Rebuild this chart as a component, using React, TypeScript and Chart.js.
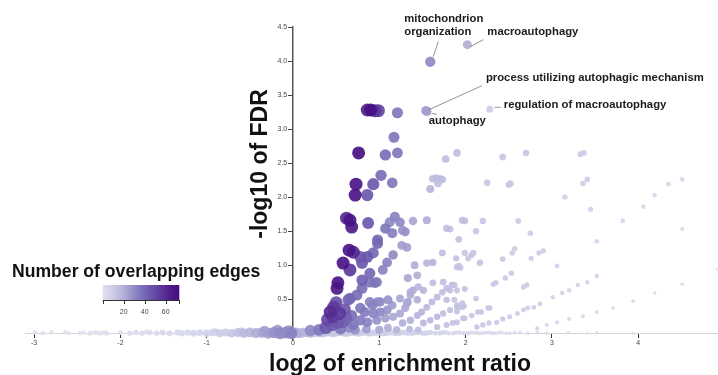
import React, { useEffect, useRef } from "react";
import { Chart, registerables } from "chart.js";

Chart.register(...registerables);

// ---------- data ----------
const X_TICKS = [-3, -2, -1, 0, 1, 2, 3, 4];
const Y_TICKS = [0.5, 1, 1.5, 2, 2.5, 3, 3.5, 4, 4.5];
const X_MIN = -3.1;
const X_MAX = 4.92;
const Y_MIN = -0.1;
const Y_MAX = 4.5;
const EDGE_MIN = 0;
const EDGE_MAX = 73;
const LEGEND_TICKS = [20, 40, 60];

const X_TITLE = "log2 of enrichment ratio";
const Y_TITLE = "-log10 of FDR";
const LEGEND_TITLE = "Number of overlapping edges";

// labelled terms
const TERM_NAMES = [
  "mitochondrion organization",
  "macroautophagy",
  "process utilizing autophagic mechanism",
  "autophagy",
  "regulation of macroautophagy",
];
const TERM_RATIO = [1.59, 2.02, 1.54, 1.55, 2.28];
const TERM_FDR = [3.99, 4.24, 3.27, 3.26, 3.29];
const TERM_EDGES = [30, 20, 24, 24, 10];

// [log2 enrichment ratio, -log10 FDR, overlapping edges]
const TOP_TERMS = [
  [0.86, 3.28, 62], [0.9, 3.28, 70], [0.95, 3.27, 55], [0.99, 3.27, 50],
  [1.21, 3.24, 35], [1.17, 2.88, 35],
  [0.76, 2.65, 70], [1.07, 2.62, 38], [1.21, 2.65, 35],
  [1.77, 2.56, 15], [1.9, 2.65, 15],
  [1.02, 2.32, 38], [0.93, 2.19, 45], [1.15, 2.21, 35], [0.73, 2.19, 68], [0.72, 2.03, 68], [0.86, 2.03, 45],
  [1.62, 2.27, 15], [1.66, 2.28, 15], [1.7, 2.27, 15], [1.73, 2.26, 15], [1.68, 2.2, 15], [1.59, 2.12, 18],
  [2.25, 2.21, 12], [2.43, 2.59, 12], [2.7, 2.65, 12], [3.33, 2.63, 10], [3.37, 2.65, 10],
  [2.5, 2.18, 12], [2.52, 2.2, 12], [3.36, 2.2, 10], [3.41, 2.26, 10], [3.15, 2.0, 8], [3.45, 1.82, 8],
  [4.51, 2.26, 5], [4.35, 2.19, 5], [4.19, 2.03, 5], [4.06, 1.86, 5], [3.82, 1.65, 6], [4.51, 1.53, 4], [3.52, 1.35, 6],
  [0.66, 1.66, 68], [0.68, 1.56, 66], [0.62, 1.69, 60], [0.87, 1.62, 45],
  [1.18, 1.71, 32], [1.12, 1.63, 30], [1.24, 1.63, 30], [1.27, 1.51, 28], [1.39, 1.65, 22], [1.55, 1.66, 20],
  [1.78, 1.54, 15], [1.96, 1.66, 15], [1.99, 1.65, 15], [2.2, 1.65, 12], [2.61, 1.65, 10],
  [1.07, 1.54, 35], [1.15, 1.47, 33], [0.98, 1.37, 40], [2.12, 1.5, 12], [2.75, 1.47, 10], [1.92, 1.38, 14],
  [1.82, 1.53, 14], [1.3, 1.49, 28],
];

const MID_TERMS = [
  [0.65, 1.22, 68], [0.7, 1.19, 60], [0.58, 1.03, 68], [0.66, 0.93, 55], [0.52, 0.74, 68], [0.51, 0.66, 65],
  [0.78, 1.12, 45], [0.86, 1.12, 45], [0.93, 1.18, 40], [0.98, 1.32, 40], [0.8, 1.03, 45], [0.89, 0.88, 40],
  [0.8, 0.78, 42], [0.97, 0.75, 35], [1.09, 1.04, 32], [1.04, 0.93, 32], [1.16, 1.15, 30],
  [1.26, 1.29, 25], [1.32, 1.26, 25],
  [0.64, 0.49, 40], [0.74, 0.56, 38], [0.8, 0.66, 38], [0.89, 0.75, 36], [0.95, 0.74, 35],
  [0.98, 0.46, 30], [1.1, 0.49, 28], [0.89, 0.46, 32], [0.78, 0.37, 35], [0.66, 0.51, 40],
  [1.41, 1.0, 20], [1.55, 1.03, 18], [1.62, 1.04, 18], [1.44, 0.85, 20], [1.33, 0.81, 22], [1.73, 1.18, 15],
  [1.62, 0.74, 15], [1.51, 0.63, 18], [1.74, 0.75, 15], [1.82, 0.63, 14], [1.36, 0.6, 20], [1.24, 0.51, 22],
  [1.32, 0.44, 22], [1.44, 0.49, 20], [1.78, 0.49, 15], [1.9, 0.41, 14],
  [1.33, 0.46, 22], [1.36, 0.56, 20], [1.39, 0.63, 20], [1.45, 0.68, 18],
  [1.61, 0.46, 16], [1.67, 0.53, 16], [1.73, 0.6, 15], [1.78, 0.66, 15], [1.84, 0.71, 14],
];

const LOW_TERMS = [
  [0.43, 0.31, 60], [0.46, 0.24, 55], [0.54, 0.29, 55], [0.47, 0.38, 55], [0.5, 0.45, 48], [0.6, 0.35, 45],
  [0.45, 0.12, 45], [0.52, 0.15, 45], [0.58, 0.16, 42], [0.62, 0.22, 42], [0.68, 0.26, 38], [0.7, 0.12, 35],
  [0.83, 0.31, 34], [0.92, 0.41, 32], [1.01, 0.46, 30], [0.93, 0.29, 32], [1.01, 0.31, 30], [1.09, 0.34, 28],
  [1.15, 0.41, 25], [0.78, 0.19, 34], [0.86, 0.16, 32], [0.97, 0.19, 28], [1.07, 0.22, 25], [1.16, 0.24, 22],
  [1.24, 0.29, 22], [1.3, 0.37, 22],
  [1.27, 0.15, 20], [1.36, 0.19, 19], [1.44, 0.26, 18], [1.49, 0.31, 18], [1.55, 0.38, 17],
  [1.51, 0.15, 17], [1.59, 0.19, 16], [1.67, 0.24, 16], [1.74, 0.29, 15], [1.82, 0.34, 14], [1.9, 0.38, 14],
  [1.96, 0.44, 13], [1.67, 0.09, 15], [1.78, 0.12, 14], [1.9, 0.16, 13], [1.97, 0.22, 13],
  [0.4, 0.2, 50], [0.38, 0.08, 45], [0.3, 0.05, 35], [0.2, 0.04, 30], [0.55, 0.06, 35], [0.65, 0.08, 30],
  [0.72, 0.05, 28], [0.85, 0.06, 25], [1.0, 0.05, 22], [1.1, 0.08, 20], [1.2, 0.05, 18], [1.35, 0.06, 16],
  [1.45, 0.05, 15],
];

const RAY_TERMS = [
  [1.89, 1.1, 13], [2.03, 1.1, 12], [2.07, 1.15, 12], [2.09, 1.18, 12], [2.16, 1.03, 12], [2.43, 1.09, 11],
  [2.54, 1.18, 10], [2.57, 1.24, 10], [2.76, 1.1, 10], [2.85, 1.18, 10], [2.9, 1.21, 10], [1.99, 1.18, 12],
  [1.94, 0.96, 12], [2.17, 1.04, 12],
  [1.9, 0.97, 13], [1.92, 0.99, 13], [2.46, 0.81, 11], [2.53, 0.88, 11], [2.32, 0.72, 11], [2.35, 0.74, 11],
  [2.67, 0.68, 10], [2.71, 0.71, 10], [1.87, 0.71, 13], [1.9, 0.63, 13], [1.99, 0.65, 13], [2.12, 0.51, 12],
  [1.87, 0.49, 13], [1.96, 0.38, 13], [1.98, 0.4, 13], [1.9, 0.32, 13], [1.99, 0.22, 12], [2.07, 0.26, 12],
  [2.14, 0.31, 12], [2.18, 0.31, 12], [2.26, 0.37, 12], [2.28, 0.37, 12],
  [1.85, 0.15, 13], [2.13, 0.09, 12], [2.2, 0.12, 12], [2.27, 0.15, 11], [2.36, 0.16, 11], [2.43, 0.21, 11],
  [2.51, 0.24, 10], [2.6, 0.29, 10], [2.67, 0.34, 10], [2.72, 0.37, 10], [2.79, 0.38, 10], [2.86, 0.43, 9],
  [3.06, 0.99, 8], [3.52, 0.84, 7], [3.41, 0.75, 7], [3.3, 0.71, 7], [3.2, 0.63, 7], [3.12, 0.59, 7], [3.01, 0.53, 7],
  [4.51, 0.72, 3], [4.19, 0.59, 3], [3.94, 0.47, 4], [3.71, 0.37, 4], [3.52, 0.31, 4], [3.36, 0.25, 5],
  [3.2, 0.21, 5], [3.06, 0.16, 6], [2.94, 0.12, 6], [2.83, 0.07, 7], [4.92, 0.94, 3],
];

const BASELINE_NEG = [
  [-2.99, 0.01, 1], [-2.9, 0.0, 1], [-2.8, 0.01, 1], [-2.64, 0.01, 1], [-2.6, 0.0, 1], [-2.47, 0.0, 1],
  [-2.43, 0.01, 1], [-2.35, 0.0, 2], [-2.29, 0.01, 2], [-2.24, 0.0, 2], [-2.19, 0.01, 2], [-2.16, 0.0, 2],
  [-2.0, 0.01, 2], [-1.89, 0.0, 3], [-1.82, 0.01, 3], [-1.75, 0.0, 3], [-1.7, 0.02, 2], [-1.66, 0.01, 3],
  [-1.58, 0.0, 3], [-1.51, 0.01, 4], [-1.43, 0.0, 4], [-1.34, 0.01, 4], [-1.29, 0.0, 5], [-1.22, 0.01, 5],
  [-1.15, 0.0, 6], [-1.08, 0.01, 6], [-1.0, 0.0, 8], [-0.93, 0.01, 8], [-0.9, 0.02, 7], [-0.85, 0.0, 10],
  [-0.78, 0.01, 10], [-0.71, 0.0, 12], [-0.64, 0.01, 14], [-0.6, 0.02, 12], [-0.57, 0.0, 16], [-0.5, 0.01, 18],
  [-0.43, 0.0, 20], [-0.36, 0.01, 22], [-0.33, 0.03, 24], [-0.29, 0.0, 25], [-0.22, 0.01, 28], [-0.18, 0.04, 26],
  [-0.15, 0.0, 30], [-0.08, 0.01, 30], [-0.05, 0.03, 28], [-0.02, 0.0, 32],
];

const BASELINE_POS = [
  [0.03, 0.01, 20], [0.06, 0.0, 19], [0.09, 0.0, 18], [0.12, 0.01, 17], [0.16, 0.01, 16], [0.19, 0.0, 16],
  [0.22, 0.0, 15], [0.26, 0.01, 15], [0.29, 0.01, 14], [0.32, 0.0, 14], [0.35, 0.0, 13], [0.39, 0.01, 13],
  [0.42, 0.01, 12], [0.45, 0.0, 12], [0.48, 0.0, 12], [0.53, 0.01, 11], [0.57, 0.01, 11], [0.6, 0.0, 11],
  [0.63, 0.0, 11], [0.67, 0.01, 10], [0.71, 0.01, 10], [0.74, 0.0, 10], [0.77, 0.0, 10], [0.81, 0.01, 10],
  [0.85, 0.01, 10], [0.88, 0.0, 9], [0.92, 0.0, 9], [0.95, 0.01, 9], [0.98, 0.01, 9], [1.03, 0.0, 9],
  [1.07, 0.0, 9], [1.1, 0.01, 8], [1.13, 0.01, 8], [1.18, 0.0, 8], [1.22, 0.0, 8], [1.25, 0.01, 8],
  [1.29, 0.01, 8], [1.33, 0.0, 7], [1.38, 0.0, 7], [1.41, 0.01, 7], [1.45, 0.01, 7], [1.5, 0.0, 7],
  [1.54, 0.0, 7], [1.57, 0.01, 6], [1.6, 0.01, 6], [1.65, 0.0, 6], [1.7, 0.0, 6], [1.73, 0.01, 6],
  [1.77, 0.01, 6], [1.81, 0.0, 5], [1.86, 0.0, 5], [1.89, 0.01, 5], [1.93, 0.01, 5], [1.98, 0.0, 5],
  [2.03, 0.0, 5], [2.07, 0.01, 4], [2.11, 0.01, 4], [2.15, 0.0, 4], [2.19, 0.0, 4], [2.23, 0.01, 4],
  [2.27, 0.01, 4], [2.31, 0.0, 4], [2.35, 0.0, 4], [2.39, 0.01, 3], [2.42, 0.01, 3], [2.47, 0.0, 3],
  [2.51, 0.0, 3], [2.57, 0.01, 3], [2.63, 0.01, 3], [2.72, 0.0, 3],
  [2.83, 0.01, 3], [2.94, 0.0, 3], [3.19, 0.01, 2], [3.41, 0.0, 2], [3.52, 0.01, 2], [3.94, 0.0, 2],
];

// ---------- styles ----------
const FONT = "'Liberation Sans', Arial, Helvetica, sans-serif";
const COLOR_STOPS: [number, number[]][] = [
  [0, [226, 226, 240]],
  [12, [200, 199, 228]],
  [20, [178, 175, 216]],
  [35, [128, 120, 188]],
  [50, [100, 72, 164]],
  [65, [78, 28, 138]],
  [73, [70, 10, 128]],
];

function edgeRGB(e: number): number[] {
  if (e <= COLOR_STOPS[0][0]) return COLOR_STOPS[0][1];
  for (let i = 1; i < COLOR_STOPS.length; i++) {
    const [v1, c1] = COLOR_STOPS[i];
    const [v0, c0] = COLOR_STOPS[i - 1];
    if (e <= v1) {
      const t = (e - v0) / (v1 - v0);
      return c0.map((c, k) => Math.round(c + (c1[k] - c) * t));
    }
  }
  return COLOR_STOPS[COLOR_STOPS.length - 1][1];
}
function edgeColor(e: number, a = 1) {
  const [r, g, b] = edgeRGB(e);
  return `rgba(${r},${g},${b},${a})`;
}
function radiusFor(x: number, y: number, e: number) {
  const r = 1.3 + 0.85 * Math.sqrt(e / Math.pow(2, Math.max(x, 0))) + 0.3 * y;
  return Math.max(1.2, Math.min(6.5, r));
}

// label layout offsets (pixels, relative to the term's point)
const LABEL_LAYOUT = [
  { lines: ["mitochondrion", "organization"], dx: -26, dy: -40, lh: 13, leader: [8, -20, 3, -5] },
  { lines: ["macroautophagy"], dx: 20, dy: -9.5, lh: 13, leader: [3, 2, 16, -5] },
  { lines: ["process utilizing autophagic mechanism"], dx: 60, dy: -30, lh: 13, leader: [3, -1, 56, -25] },
  { lines: ["autophagy"], dx: 2, dy: 12.5, lh: 13, leader: [5, 2, 10, 3] },
  { lines: ["regulation of macroautophagy"], dx: 14, dy: -1, lh: 13, leader: [5, -2, 11, -2] },
];

const zeroFit = (s: any) => {
  if (s.isHorizontal()) s.height = 0;
  else s.width = 0;
  s.paddingLeft = 0;
  s.paddingRight = 0;
  s.paddingTop = 0;
  s.paddingBottom = 0;
};

const overlayPlugin = {
  id: "overlay",
  afterDatasetsDraw(chart: any) {
    const ctx = chart.ctx as CanvasRenderingContext2D;
    const xs = chart.scales.x;
    const ys = chart.scales.y;
    ctx.save();
    TERM_NAMES.forEach((_, i) => {
      const px = xs.getPixelForValue(TERM_RATIO[i]);
      const py = ys.getPixelForValue(TERM_FDR[i]);
      const L = LABEL_LAYOUT[i];
      ctx.strokeStyle = "#777";
      ctx.lineWidth = 0.8;
      ctx.beginPath();
      ctx.moveTo(px + L.leader[0], py + L.leader[1]);
      ctx.lineTo(px + L.leader[2], py + L.leader[3]);
      ctx.stroke();
      ctx.fillStyle = "#1c1c1c";
      ctx.font = `bold 11.3px ${FONT}`;
      ctx.textAlign = "left";
      ctx.textBaseline = "alphabetic";
      L.lines.forEach((t, k) => {
        ctx.fillText(t, px + L.dx, py + L.dy + k * L.lh);
      });
    });
    ctx.restore();
  },
  afterDraw(chart: any) {
    const ctx = chart.ctx as CanvasRenderingContext2D;
    ctx.save();
    ctx.fillStyle = "#111";
    ctx.font = `bold 23px ${FONT}`;
    ctx.textAlign = "center";
    ctx.textBaseline = "alphabetic";
    ctx.fillText(X_TITLE, 400, 371);
    ctx.save();
    ctx.translate(267, 164);
    ctx.rotate(-Math.PI / 2);
    ctx.fillText(Y_TITLE, 0, 0);
    ctx.restore();
    ctx.font = `bold 17.6px ${FONT}`;
    ctx.textAlign = "left";
    ctx.fillText(LEGEND_TITLE, 12, 277);
    // colorbar
    const bx0 = 102.7, bx1 = 179.3, by0 = 285, by1 = 300;
    const grad = ctx.createLinearGradient(bx0, 0, bx1, 0);
    COLOR_STOPS.forEach(([v]) => {
      grad.addColorStop((v - EDGE_MIN) / (EDGE_MAX - EDGE_MIN), edgeColor(v));
    });
    ctx.fillStyle = grad;
    ctx.fillRect(bx0, by0, bx1 - bx0, by1 - by0);
    const toX = (v: number) => bx0 + ((v - EDGE_MIN) / (EDGE_MAX - EDGE_MIN)) * (bx1 - bx0);
    ctx.strokeStyle = "#333";
    ctx.lineWidth = 1;
    ctx.beginPath();
    ctx.moveTo(bx0, by1 + 0.5);
    ctx.lineTo(bx1, by1 + 0.5);
    [EDGE_MIN, ...LEGEND_TICKS, EDGE_MAX].forEach((v) => {
      ctx.moveTo(Math.round(toX(v)) + 0.5, by1);
      ctx.lineTo(Math.round(toX(v)) + 0.5, by1 + 4);
    });
    ctx.stroke();
    ctx.fillStyle = "#444";
    ctx.font = `7px ${FONT}`;
    ctx.textAlign = "center";
    ctx.textBaseline = "middle";
    LEGEND_TICKS.forEach((v) => ctx.fillText(String(v), toX(v), 312));
    ctx.restore();
  },
};

export default function App() {
  const ref = useRef<HTMLCanvasElement | null>(null);
  useEffect(() => {
    if (!ref.current) return;
    const all = [
      ...BASELINE_NEG,
      ...BASELINE_POS,
      ...LOW_TERMS,
      ...MID_TERMS,
      ...RAY_TERMS,
      ...TOP_TERMS,
      ...TERM_NAMES.map((_, i) => [TERM_RATIO[i], TERM_FDR[i], TERM_EDGES[i]]),
    ]
      .map(([x, y, e]) => ({ x, y, e }))
      .sort((a, b) => a.e - b.e);

    const chart = new Chart(ref.current, {
      type: "scatter",
      data: {
        datasets: [
          {
            data: all as any,
            pointRadius: (c: any) => (c.raw ? radiusFor(c.raw.x, c.raw.y, c.raw.e) : 3),
            pointBackgroundColor: (c: any) => (c.raw ? edgeColor(c.raw.e, 0.92) : "#ccc"),
            pointBorderWidth: 0,
            pointHoverRadius: 0,
          } as any,
        ],
      },
      options: {
        animation: false,
        responsive: false,
        devicePixelRatio: 1,
        events: [],
        layout: { autoPadding: false, padding: { left: 25.5, right: 0.4, top: 27, bottom: 35 } } as any,
        plugins: { legend: { display: false }, tooltip: { enabled: false } },
        scales: {
          x: {
            type: "linear",
            min: X_MIN,
            max: X_MAX,
            position: { y: 0 } as any,
            afterFit: zeroFit,
            afterBuildTicks: (s: any) => {
              s.ticks = X_TICKS.map((v) => ({ value: v }));
            },
            grid: { drawOnChartArea: false, tickLength: 4, tickColor: "#333", tickWidth: 1 },
            border: { color: "#d6d6d6", width: 1 },
            ticks: { font: { family: FONT, size: 7 }, color: "#444", padding: 2, maxRotation: 0, autoSkip: false },
          },
          y: {
            type: "linear",
            min: Y_MIN,
            max: Y_MAX,
            position: { x: 0 } as any,
            z: 1,
            afterFit: zeroFit,
            afterBuildTicks: (s: any) => {
              s.ticks = Y_TICKS.map((v) => ({ value: v }));
            },
            grid: { drawOnChartArea: false, tickLength: 4, tickColor: "#444", tickWidth: 1 },
            border: { color: "#555", width: 1.5 },
            ticks: {
              font: { family: FONT, size: 7 },
              color: "#444",
              padding: 2,
              autoSkip: false,
              callback: (v: any) => Number(v).toFixed(1) + "   ",
            },
          },
        },
      },
      plugins: [overlayPlugin],
    });
    return () => chart.destroy();
  }, []);

  return (
    <div style={{ position: "fixed", left: 0, top: 0, width: 718, height: 375, background: "#fff" }}>
      <canvas ref={ref} width={718} height={375} style={{ display: "block", width: 718, height: 375 }} />
    </div>
  );
}
